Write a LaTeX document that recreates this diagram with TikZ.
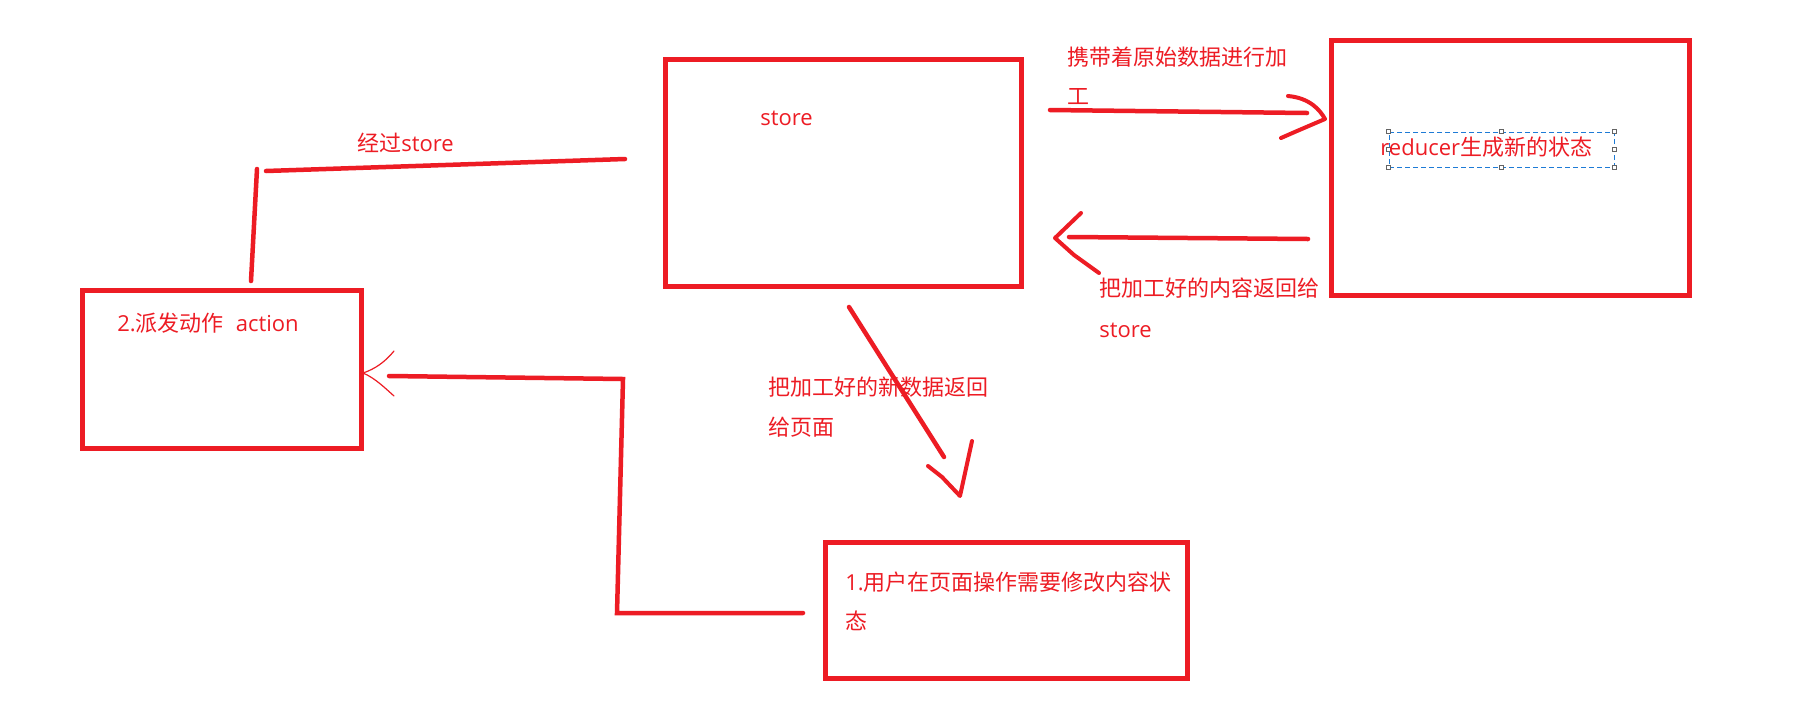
\documentclass[tikz,border=0pt]{standalone}
\usepackage{fontspec}
\setmainfont{Open Sans}
\newfontfamily\cjk{Noto Sans CJK SC}
\definecolor{pen}{HTML}{ED1C24}
\definecolor{selblue}{HTML}{1E7BD6}
\definecolor{handle}{HTML}{646464}
\begin{document}
\begin{tikzpicture}[x=0.5pt,y=-0.5pt,
  box/.style={draw=pen, line width=2.5pt, inner sep=0pt},
  stroke/.style={draw=pen, line width=2.25pt, line cap=round, line join=round},
  headstroke/.style={draw=pen, line width=2pt, line cap=round, line join=round},
  thinstroke/.style={draw=pen, line width=0.6pt, line cap=round},
  lbl/.style={text=pen, font=\fontsize{11}{13}\selectfont, inner sep=0pt, anchor=base west},
  selbox/.style={draw=selblue, dash pattern=on 2.5pt off 1.5pt, line width=0.5pt, inner sep=0pt},
  grip/.style={draw=handle, fill=white, line width=0.4pt, minimum size=2pt, inner sep=0pt}
]
\useasboundingbox (0,0) rectangle (1799,724);
\fill[white] (0,0) rectangle (1799,724);

% boxes
\node[box, minimum width=178pt, minimum height=113.25pt] (store) at (843.5,172.75) {};
\node[box, minimum width=179pt, minimum height=127.25pt] (reducer) at (1510.5,167.75) {};
\node[box, minimum width=139.25pt, minimum height=78.75pt] (action) at (221.75,369.25) {};
\node[box, minimum width=180.75pt, minimum height=67.75pt] (user) at (1006.25,610.25) {};

% text inside boxes
\node[lbl] (storelbl) at (760,125) {store};
\node[lbl] (actionlbl) at (117,331) {2.{\cjk 派发动作}\hspace{6pt}action};
\node[lbl] (userlbl1) at (845,590.5) {1.{\cjk 用户在页面操作需要修改内容状}};
\node[lbl] (userlbl2) at (845,629) {\cjk 态};

% selected text frame in the reducer box
\node[selbox, minimum width=112.5pt, minimum height=17.5pt] (sel) at (1501.5,149.5) {};
\foreach \a in {north west,north,north east,west,east,south west,south,south east}
  \node[grip] at (sel.\a) {};
\node[lbl] (reducerlbl) at (1380,155) {reducer{\cjk 生成新的状态}};

% edge labels
\node[lbl] (viastore) at (357,151) {{\cjk 经过}store};
\node[lbl] (carry1) at (1067,65.5) {\cjk 携带着原始数据进行加};
\node[lbl] (carry2) at (1067,104.5) {\cjk 工};
\node[lbl] (back1) at (1099,296.5) {\cjk 把加工好的内容返回给};
\node[lbl] (back2) at (1099,337) {store};
\node[lbl] (down1) at (768,395.5) {\cjk 把加工好的新数据返回};
\node[lbl] (down2) at (768,435.5) {\cjk 给页面};

% store -> action
\coordinate (sa1) at (625,159);
\coordinate (sa2) at (266,171);
\coordinate (sa3) at (257,169);
\coordinate (sa4) at (251,281);
\draw[stroke] (sa1) -- (sa2);
\draw[stroke] (sa3) -- (sa4);

% store -> reducer
\coordinate (sr1) at (1050,110);
\coordinate (sr2) at (1307,113);
\coordinate (srtip) at (1325,119);
\draw[stroke] (sr1) -- (sr2);
\draw[headstroke] (1288,96) .. controls (1310,98) and (1320,110) .. (srtip) -- (1297,131) -- (1281,138);

% reducer -> store
\coordinate (rs1) at (1308,239);
\coordinate (rs2) at (1069,237);
\coordinate (rstip) at (1055,238);
\draw[stroke] (rs1) -- (rs2);
\draw[headstroke] (1081,213) -- (rstip) -- (1074,255) -- (1099,273);

% store -> user
\coordinate (su1) at (849,307);
\coordinate (su2) at (944,457);
\coordinate (sutip) at (960,496);
\draw[stroke] (su1) -- (su2);
\draw[headstroke] (928,466) -- (942,477) -- (sutip) -- (972,441);

% user -> action
\coordinate (ua1) at (803,613);
\coordinate (ua2) at (617,613);
\coordinate (ua3) at (623,379);
\coordinate (ua4) at (389,376);
\coordinate (uatip) at (363,373);
\draw[stroke, line join=miter] (ua1) -- (ua2) -- (ua3) -- (ua4);
\draw[thinstroke] (394,351) .. controls (385,362) and (375,369) .. (uatip)
  .. controls (375,378) and (385,388) .. (394,396);
\end{tikzpicture}
\end{document}
